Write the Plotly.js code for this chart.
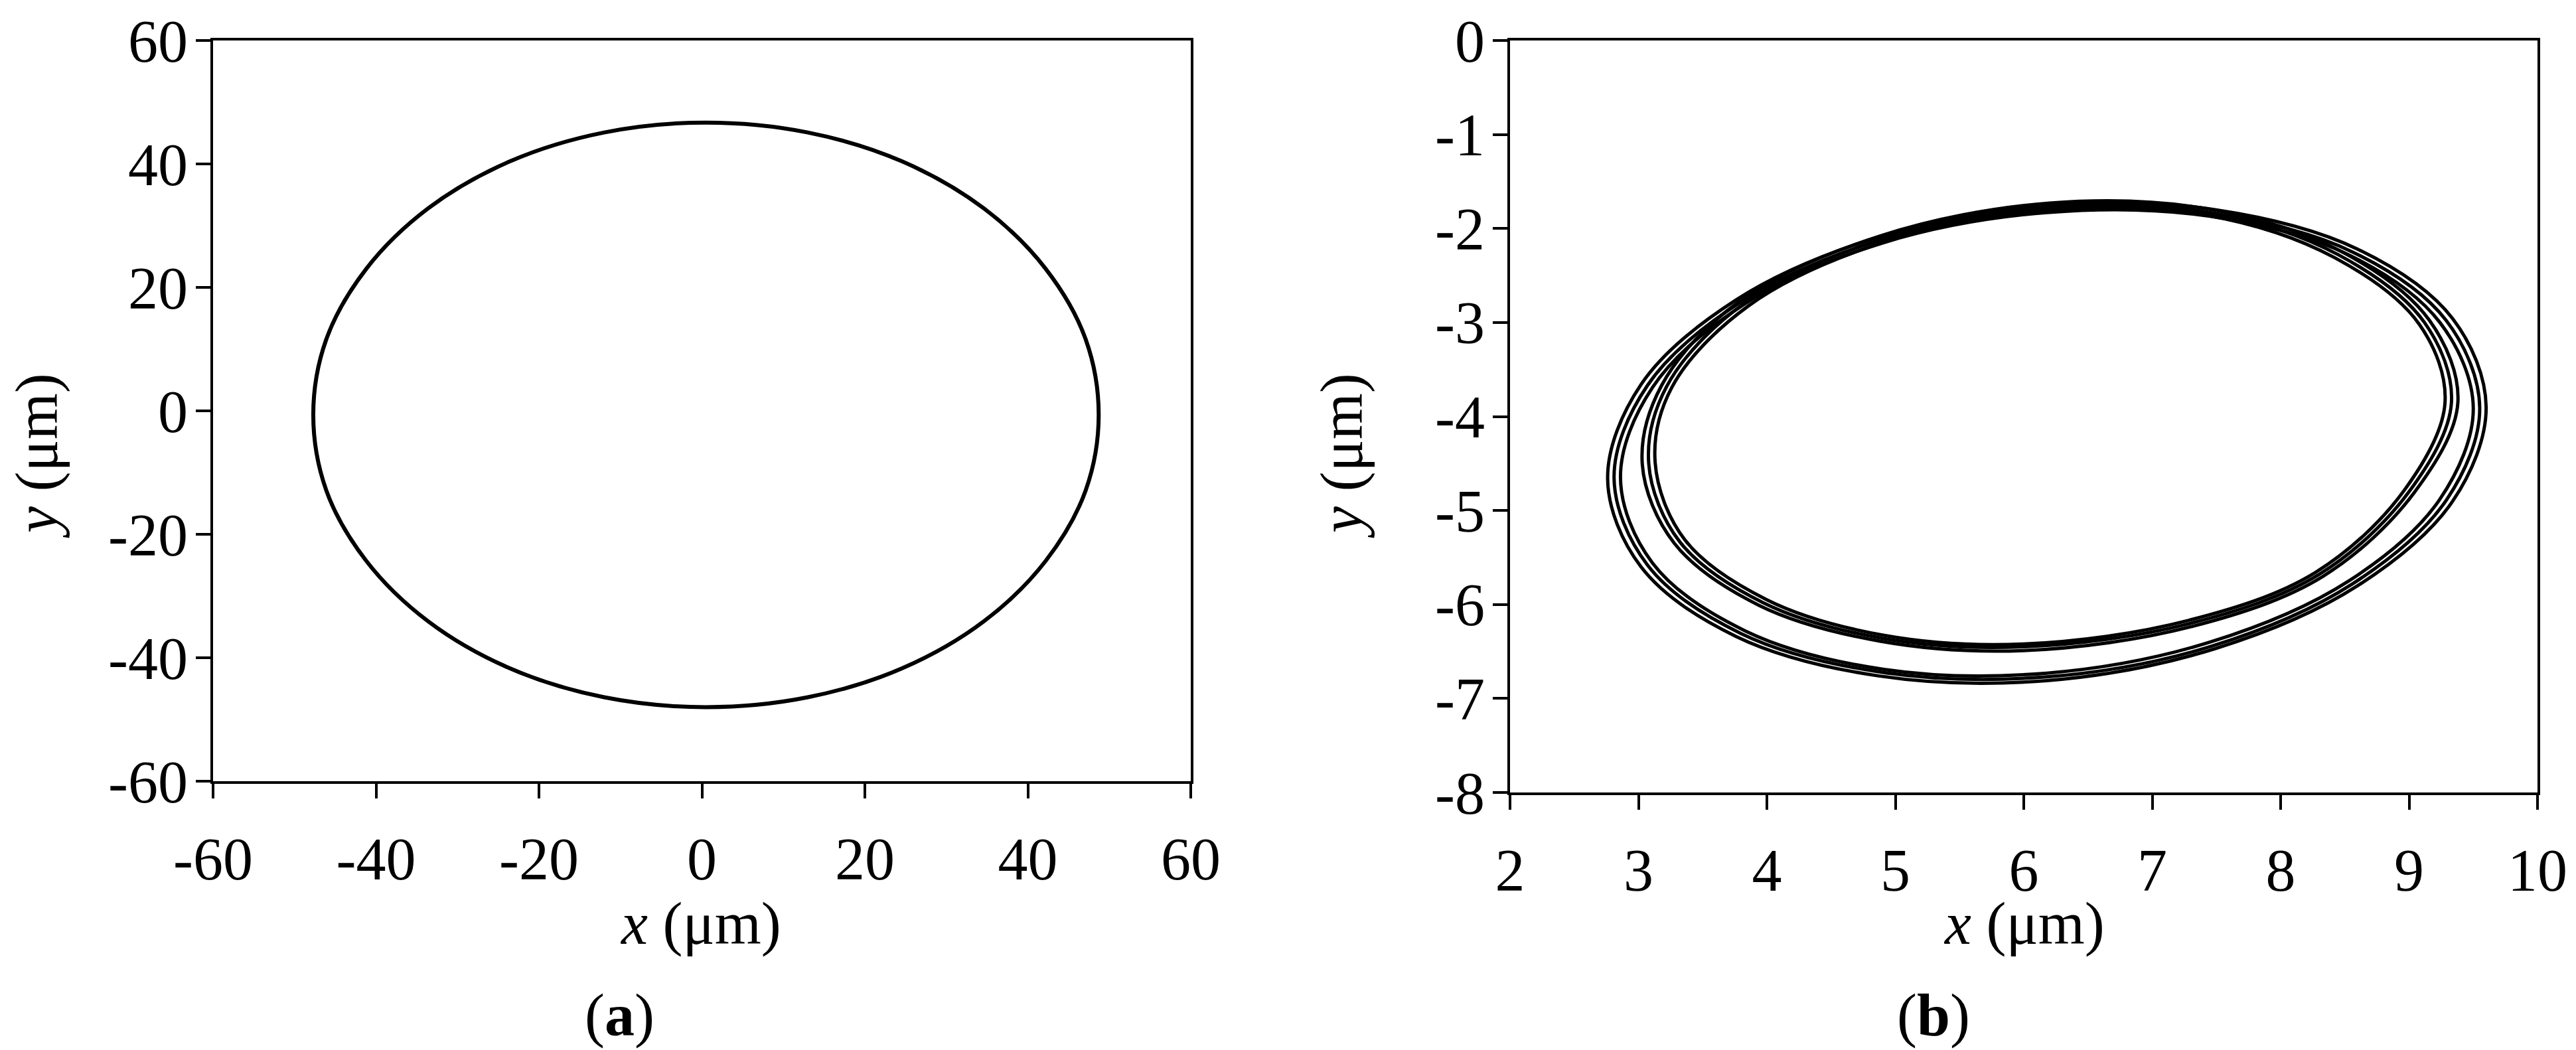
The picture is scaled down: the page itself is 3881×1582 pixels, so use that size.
<!DOCTYPE html>
<html>
<head>
<meta charset="utf-8">
<script src="https://cdn.plot.ly/plotly-3.0.1.min.js"></script>
<style>
  html, body { margin: 0; padding: 0; background: #fff; }
  #chart { width: 3881px; height: 1582px; }
</style>
</head>
<body>
<div id="chart"></div>
<script>
// (a) closed orbit (um)
const orbitAx = [48.7, 47.1, 42.2, 34.6, 24.6, 13.0, 0.5, -12.0, -23.6, -33.6, -41.2, -46.1, -47.7,
                 -46.1, -41.2, -33.6, -23.6, -12.0, 0.5, 13.0, 24.6, 34.6, 42.2, 47.1, 48.7];
const orbitAy = [-0.6, 11.6, 23.0, 32.8, 40.4, 45.1, 46.7, 45.1, 40.4, 32.8, 23.0, 11.6, -0.6,
                 -12.9, -24.3, -34.1, -41.7, -46.4, -48.0, -46.4, -41.7, -34.1, -24.3, -12.9, -0.6];

// (b) quasi-periodic orbit: outer band (3 passes) and inner band (3 passes)
const outer1x = [9.60, 9.34, 8.60, 7.49, 6.18, 4.87, 3.76, 3.02, 2.76, 3.02, 3.76, 4.87, 6.18, 7.49, 8.60, 9.34, 9.60];
const outer1y = [-3.90, -2.96, -2.22, -1.80, -1.75, -2.09, -2.76, -3.66, -4.66, -5.60, -6.34, -6.76, -6.81, -6.47, -5.80, -4.90, -3.90];
const outer2x = [9.55, 9.29, 8.56, 7.47, 6.18, 4.89, 3.80, 3.07, 2.81, 3.07, 3.80, 4.89, 6.18, 7.47, 8.56, 9.29, 9.55];
const outer2y = [-3.91, -2.98, -2.25, -1.84, -1.79, -2.12, -2.78, -3.67, -4.65, -5.58, -6.31, -6.72, -6.77, -6.44, -5.78, -4.89, -3.91];
const outer3x = [9.50, 9.24, 8.53, 7.45, 6.18, 4.91, 3.83, 3.11, 2.86, 3.11, 3.83, 4.91, 6.18, 7.45, 8.53, 9.24, 9.50];
const outer3y = [-3.91, -3.00, -2.28, -1.87, -1.83, -2.15, -2.80, -3.69, -4.65, -5.56, -6.28, -6.69, -6.73, -6.40, -5.75, -4.88, -3.91];
const inner1x = [9.38, 9.16, 8.48, 7.47, 6.20, 4.88, 3.78, 3.18, 3.03, 3.28, 3.94, 4.88, 6.00, 7.32, 8.33, 9.04, 9.38];
const inner1y = [-3.85, -2.98, -2.25, -1.80, -1.73, -2.08, -2.78, -3.67, -4.51, -5.35, -6.01, -6.39, -6.49, -6.23, -5.70, -4.81, -3.85];
const inner2x = [9.33, 9.12, 8.45, 7.45, 6.20, 4.90, 3.82, 3.22, 3.08, 3.32, 3.97, 4.90, 6.00, 7.30, 8.30, 9.00, 9.33];
const inner2y = [-3.85, -3.00, -2.28, -1.83, -1.77, -2.11, -2.80, -3.68, -4.50, -5.33, -5.98, -6.36, -6.45, -6.20, -5.68, -4.80, -3.85];
const inner3x = [9.28, 9.08, 8.42, 7.43, 6.20, 4.92, 3.86, 3.26, 3.13, 3.36, 4.00, 4.92, 6.00, 7.28, 8.27, 8.96, 9.28];
const inner3y = [-3.85, -3.02, -2.31, -1.86, -1.80, -2.14, -2.82, -3.69, -4.49, -5.31, -5.95, -6.33, -6.42, -6.17, -5.66, -4.79, -3.85];

// ticks (hyphen minus like the original)
const tickA = [-60, -40, -20, 0, 20, 40, 60];
const tickAText = ['-60', '-40', '-20', '0', '20', '40', '60'];
const tickBx = [2, 3, 4, 5, 6, 7, 8, 9, 10];
const tickBxText = ['2', '3', '4', '5', '6', '7', '8', '9', '10'];
const tickBy = [0, -1, -2, -3, -4, -5, -6, -7, -8];
const tickByText = ['0', '-1', '-2', '-3', '-4', '-5', '-6', '-7', '-8'];

const W = 3881, H = 1582;
const serif = 'Liberation Serif, Times New Roman, serif';
const fs = 90;

function line(x, y, xa, ya, w){
  return { x, y, xaxis: xa, yaxis: ya, mode: 'lines', type: 'scatter',
    line: { color: '#000', width: w, shape: 'spline', smoothing: 1 }, hoverinfo: 'skip' };
}

const traces = [
  line(orbitAx, orbitAy, 'x', 'y', 6),
  line(outer1x, outer1y, 'x2', 'y2', 5),
  line(outer2x, outer2y, 'x2', 'y2', 5),
  line(outer3x, outer3y, 'x2', 'y2', 5),
  line(inner1x, inner1y, 'x2', 'y2', 5),
  line(inner2x, inner2y, 'x2', 'y2', 5),
  line(inner3x, inner3y, 'x2', 'y2', 5)
];

function axis(extra){
  return Object.assign({
    showline: true, mirror: true, linecolor: '#000', linewidth: 4,
    ticks: 'outside', ticklen: 22, tickwidth: 4, tickcolor: '#000',
    showgrid: false, zeroline: false, tickmode: 'array',
    tickfont: { family: serif, size: fs, color: '#000' }
  }, extra);
}

// paper positions from pixel boxes
const px = v => v / W, py = v => 1 - v / H;

const ann = (text, x, y, angle) => ({
  text, x: px(x), y: py(y), xref: 'paper', yref: 'paper', showarrow: false,
  textangle: angle || 0, xanchor: 'center', yanchor: 'middle',
  font: { family: serif, size: fs, color: '#000' }
});

const layout = {
  width: W, height: H,
  margin: { l: 0, r: 0, t: 0, b: 0 },
  paper_bgcolor: '#fff', plot_bgcolor: '#fff',
  showlegend: false,
  xaxis:  axis({ domain: [px(321), px(1794)], range: [-60, 60], anchor: 'y', tickvals: tickA, ticktext: tickAText, ticklabelstandoff: 14 }),
  yaxis:  axis({ domain: [py(1177), py(61)], range: [-60, 60], anchor: 'x', tickvals: tickA, ticktext: tickAText, ticklabelstandoff: -6 }),
  xaxis2: axis({ domain: [px(2275), px(3823)], range: [2, 10], anchor: 'y2', tickvals: tickBx, ticktext: tickBxText, ticklabelstandoff: 14 }),
  yaxis2: axis({ domain: [py(1194), py(61)], range: [-8, 0], anchor: 'x2', tickvals: tickBy, ticktext: tickByText, ticklabelstandoff: -6 }),
  annotations: [
    ann('<i>y</i> (μm)', 56, 687, -90),
    ann('<i>x</i> (μm)', 1055, 1392),
    ann('(<b>a</b>)', 933, 1530),
    ann('<i>y</i> (μm)', 2022, 687, -90),
    ann('<i>x</i> (μm)', 3049, 1392),
    ann('(<b>b</b>)', 2913, 1530)
  ]
};

Plotly.newPlot('chart', traces, layout, { staticPlot: true });
</script>
</body>
</html>
